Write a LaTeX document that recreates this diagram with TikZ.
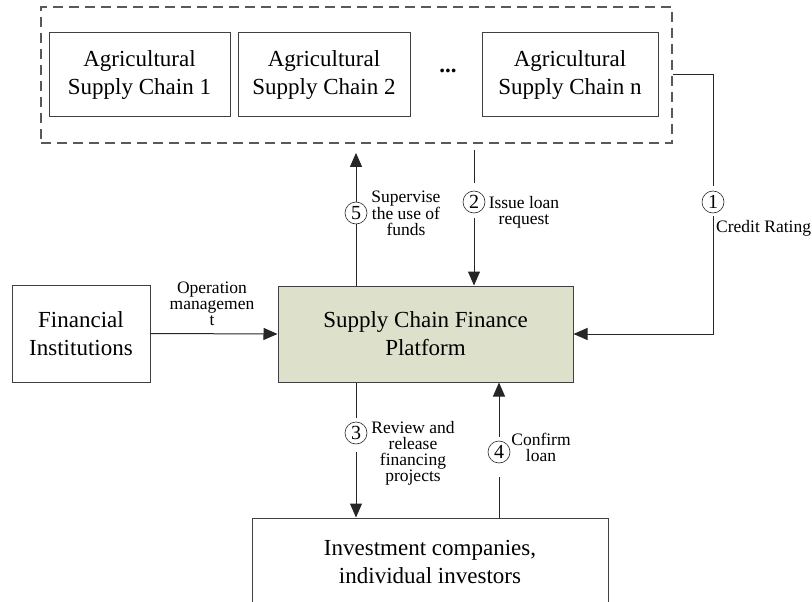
\documentclass[tikz,border=0pt]{standalone}
\usepackage{fontspec}
\setmainfont{Liberation Serif}
\usetikzlibrary{arrows.meta,positioning}

\begin{document}
\begin{tikzpicture}[x=1pt,y=-1pt,
    box/.style={
        draw=black!75,
        line width=1pt,
        align=center,
        inner sep=0pt,
        font=\fontsize{23}{28}\selectfont},
    chain/.style={box, minimum height=84pt},
    group/.style={
        draw=black!65,
        line width=1.8pt,
        dash pattern=on 10pt off 6pt,
        minimum width=631pt,
        minimum height=136pt},
    tag/.style={
        circle, draw=black!85, line width=0.6pt,
        inner sep=0pt, minimum size=22pt,
        font=\fontsize{20}{20}\selectfont},
    note/.style={align=center, inner sep=0pt, font=\fontsize{17.5}{16}\selectfont},
    line/.style={draw=black!85, line width=1pt},
    arrow/.style={line, -{Triangle[length=14pt,width=12pt]}},
  ]
  \useasboundingbox (0,0) rectangle (812,602);
  \clip (0,0) rectangle (812,602);
  % Supply chains
  \node[group] (chains) at (356.5,75) {};
  \node[chain, minimum width=181pt] (chain1) at (139.5,75) {Agricultural\\Supply Chain 1};
  \node[chain, minimum width=172pt] (chain2) at (324,75) {Agricultural\\Supply Chain 2};
  \node[font=\fontsize{23}{28}\selectfont] (dots) at (448,71) {\textbf{...}};
  \node[chain, minimum width=176pt] (chainn) at (570,75) {Agricultural\\Supply Chain n};
  % Platform and partners
  \node[box, fill={rgb,255:red,221;green,224;blue,203}, minimum width=295pt, minimum height=96pt] (platform) at (425.5,334) {Supply Chain Finance\\Platform};
  \node[box, minimum width=138pt, minimum height=97pt] (fin) at (81,333.5) {Financial\\Institutions};
  \node[box, minimum width=356pt, minimum height=88pt] (invest) at (430,562) {Investment companies,\\individual investors};
  % Step tags
  \node[tag] (c1) at (713,202) {1};
  \node[tag] (c2) at (474,202) {2};
  \node[tag] (c3) at (356,433) {3};
  \node[tag] (c4) at (499,452) {4};
  \node[tag] (c5) at (356,213) {5};
  % Step labels
  \node[note, anchor=west] (l1) at (716,228) {Credit Rating};
  \node[note] (l2) at (524,212) {Issue loan\\request};
  \node[note] (l3) at (413,453) {Review and\\release\\financing\\projects};
  \node[note] (l4) at (541,447) {Confirm\\loan};
  \node[note] (l5) at (406,213) {Supervise\\the use of\\funds};
  \node[note] (lop) at (212,304) {Operation\\managemen\\t};
  % Connectors
  \draw[line, shorten >=5pt] (chains.east) -| (c1.north);
  \draw[arrow, shorten <=3pt] (c1.south) |- (platform.east);
  \draw[line, shorten <=6pt, shorten >=8pt] (chains.south -| c2) -- (c2.north);
  \draw[arrow, shorten <=5pt] (c2.south) -- (platform.north -| c2);
  \draw[line] (platform.south -| c3) -- ([yshift=4pt]c3.north);
  \draw[arrow, shorten <=8pt] (c3.south) -- (invest.north -| c3);
  \draw[line, shorten >=14pt] (invest.north -| c4) -- (c4.south);
  \draw[arrow, shorten <=4pt] (c4.north) -- (platform.south -| c4);
  \draw[line] (platform.north -| c5) -- (c5.south);
  \draw[arrow] (c5.north) -- ([yshift=-9pt]chains.south -| c5);
  \draw[arrow] (fin.east) -- (platform.west);
\end{tikzpicture}
\end{document}
